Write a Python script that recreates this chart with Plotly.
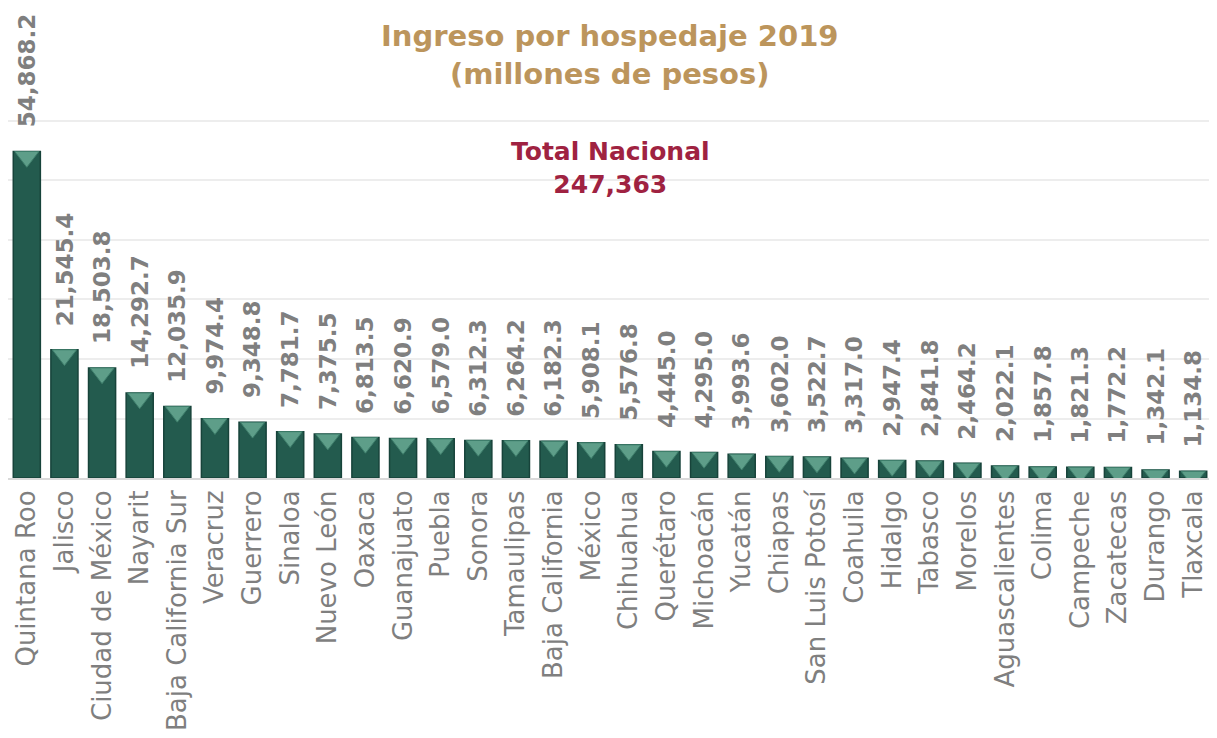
import plotly.graph_objects as go

# Ingreso por hospedaje 2019, millones de pesos
estados = ["Quintana Roo", "Jalisco", "Ciudad de México", "Nayarit", "Baja California Sur",
           "Veracruz", "Guerrero", "Sinaloa", "Nuevo León", "Oaxaca", "Guanajuato", "Puebla",
           "Sonora", "Tamaulipas", "Baja California", "México", "Chihuahua", "Querétaro",
           "Michoacán", "Yucatán", "Chiapas", "San Luis Potosí", "Coahuila", "Hidalgo",
           "Tabasco", "Morelos", "Aguascalientes", "Colima", "Campeche", "Zacatecas",
           "Durango", "Tlaxcala"]
ingreso = [54868.2, 21545.4, 18503.8, 14292.7, 12035.9, 9974.4, 9348.8, 7781.7, 7375.5,
           6813.5, 6620.9, 6579.0, 6312.3, 6264.2, 6182.3, 5908.1, 5576.8, 4445.0, 4295.0,
           3993.6, 3602.0, 3522.7, 3317.0, 2947.4, 2841.8, 2464.2, 2022.1, 1857.8, 1821.3,
           1772.2, 1342.1, 1134.8]
total_nacional = 247363

FONT = "DejaVu Sans"
VERDE = "#235B4E"
ORO = "#BC955C"
GUINDA = "#9F2241"
GRIS = "#7F7F7F"

# page body has an 8px margin, so the figure is a bit smaller than the window
W, H = 1204, 730
TOP, BOT = 110, 260
PLOT_H = H - TOP - BOT
YMAX = 60500  # a little headroom so the 60,000 gridline is drawn
TRI = 21  # triangle marker size (px)
off = YMAX * (TRI / 4) / PLOT_H  # put triangle's flat edge on the bar top

fig = go.Figure()
fig.add_trace(go.Bar(
    x=estados, y=ingreso,
    marker=dict(color=VERDE, line=dict(color="#17433A", width=1.5)),
    hoverinfo="x+y",
))
fig.add_trace(go.Scatter(
    x=estados, y=[v - off for v in ingreso],
    mode="markers",
    marker=dict(symbol="triangle-down", size=TRI, color="#5E9E89",
                line=dict(color="#3F7F6C", width=1)),
    hoverinfo="skip",
))

# value labels, rotated, sitting a bit above each bar
for est, v in zip(estados, ingreso):
    fig.add_annotation(
        x=est, y=v, text=f"<b>{v:,.1f}</b>", textangle=-90,
        yanchor="bottom", yshift=22, showarrow=False,
        font=dict(family=FONT, size=23, color=GRIS),
    )

# title as annotation so it sits exactly above the plot
fig.add_annotation(
    xref="paper", yref="paper", x=0.5, y=1 + (TOP - 47) / PLOT_H, yanchor="middle",
    text="<b>Ingreso por hospedaje 2019<br>(millones de pesos)</b>",
    showarrow=False, font=dict(family=FONT, size=29, color=ORO),
)
fig.add_annotation(
    xref="paper", yref="paper", x=0.5, y=0.861, yanchor="middle",
    text=f"<b>Total Nacional<br>{total_nacional:,}</b>",
    showarrow=False, font=dict(family=FONT, size=25, color=GUINDA),
)

fig.update_layout(
    width=W, height=H,
    margin=dict(l=0, r=0, t=TOP, b=BOT, autoexpand=False),
    paper_bgcolor="white", plot_bgcolor="white",
    showlegend=False, bargap=0.28,
    font=dict(family=FONT),
)
fig.update_xaxes(range=[-0.5, len(estados) - 0.5], tickangle=-90,
                 tickfont=dict(family=FONT, size=26, color=GRIS),
                 showline=True, linecolor="#D9D9D9", linewidth=2, ticks="",
                 automargin=False)
fig.update_yaxes(range=[0, YMAX], dtick=10000, showticklabels=False,
                 gridcolor="#EDEDED", gridwidth=1.5, zeroline=False, automargin=False)

fig.write_html("out.html")
